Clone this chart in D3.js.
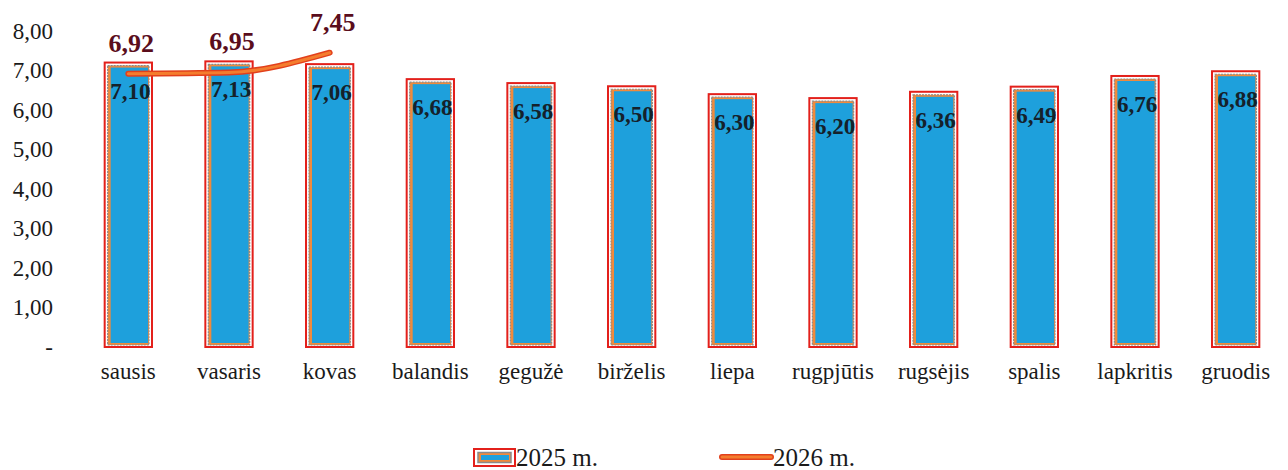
<!DOCTYPE html>
<html><head><meta charset="utf-8">
<script src="https://cdn.jsdelivr.net/npm/d3@7"></script>
<style>body{margin:0;background:#fff}svg{display:block}</style>
</head><body>
<svg id="c" width="1288" height="470"></svg>
<script>
const months = ["sausis","vasaris","kovas","balandis","gegužė","birželis","liepa","rugpjūtis","rugsėjis","spalis","lapkritis","gruodis"];
const values2025 = [7.10,7.13,7.06,6.68,6.58,6.50,6.30,6.20,6.36,6.49,6.76,6.88];
const months2026 = ["sausis","vasaris","kovas"];
const values2026 = [6.92,6.95,7.45];
const yTicks = [0,1,2,3,4,5,6,7,8];
const seriesNames = ["2025 m.","2026 m."];

const FONT = "Liberation Serif";
const svg = d3.select("#c");
const fmt = v => v === 0 ? "-" : d3.format(".2f")(v).replace(".", ",");

const x = d3.scaleBand().domain(months).range([78, 1286]).paddingInner(0.53).paddingOuter(0.265);
const y = d3.scaleLinear().domain([0, 8]).range([347, 31]);

const yAxis = d3.axisLeft(y).tickValues(yTicks).tickFormat(fmt).tickSize(0).tickPadding(0);
const ga = svg.append("g").attr("transform", "translate(53,0)").call(yAxis);
ga.select(".domain").remove();
ga.selectAll("text").attr("font-size", 23).attr("fill", "#1a1a1a");

const xAxis = d3.axisBottom(x).tickSize(0).tickPadding(0);
const gx = svg.append("g").attr("transform", "translate(0,363)").call(xAxis);
gx.select(".domain").remove();
gx.selectAll("text").attr("font-size", 23).attr("fill", "#1a1a1a");

const bw = x.bandwidth();
const barTop = i => y(values2025[i]) - 4;
const bars = svg.append("g").selectAll("g").data(months).join("g");
bars.append("rect")
  .attr("x", d => x(d)).attr("y", (d,i) => barTop(i))
  .attr("width", bw).attr("height", (d,i) => y(0) - barTop(i))
  .attr("fill", "#fff").attr("stroke", "#e3201b").attr("stroke-width", 2);
bars.append("rect")
  .attr("x", d => x(d) + 3).attr("y", (d,i) => barTop(i) + 3)
  .attr("width", bw - 6).attr("height", (d,i) => y(0) - barTop(i) - 5)
  .attr("fill", "#f08a3c").attr("stroke", "#8a8a8a").attr("stroke-width", 1.2).attr("stroke-dasharray", "2,1");
bars.append("rect")
  .attr("x", d => x(d) + 6).attr("y", (d,i) => barTop(i) + 5)
  .attr("width", bw - 10).attr("height", (d,i) => y(0) - barTop(i) - 9)
  .attr("fill", "#1ea0dc");
bars.append("text")
  .attr("x", d => x(d) + bw / 2 + 2).attr("y", (d,i) => y(values2025[i]) + 32)
  .attr("text-anchor", "middle").attr("font-size", 23).attr("font-weight", "bold")
  .attr("fill", "#15212b").text((d,i) => fmt(values2025[i]));

const line = d3.line().x((d,i) => x(months2026[i]) + bw / 2).y(d => y(d)).curve(d3.curveMonotoneX);
svg.append("path").datum(values2026).attr("d", line).attr("fill", "none")
  .attr("stroke", "#e2401c").attr("stroke-width", 6).attr("stroke-linecap", "round");
svg.append("path").datum(values2026).attr("d", line).attr("fill", "none")
  .attr("stroke", "#f47d2e").attr("stroke-width", 3).attr("stroke-linecap", "round");
svg.append("g").selectAll("text").data(values2026).join("text")
  .attr("x", (d,i) => x(months2026[i]) + bw / 2 + 3).attr("y", d => y(d) - 22)
  .attr("text-anchor", "middle").attr("font-size", 26).attr("font-weight", "bold")
  .attr("fill", "#5a0d1c").text(d => fmt(d));

const lg = svg.append("g");
lg.append("rect").attr("x", 474).attr("y", 449).attr("width", 41).attr("height", 17)
  .attr("fill", "#fff").attr("stroke", "#e3201b").attr("stroke-width", 2);
lg.append("rect").attr("x", 478).attr("y", 452.5).attr("width", 33).attr("height", 10)
  .attr("fill", "#f08a3c").attr("stroke", "#8a8a8a").attr("stroke-width", 1.5);
lg.append("rect").attr("x", 481).attr("y", 455).attr("width", 28).attr("height", 5).attr("fill", "#1ea0dc");
lg.append("text").attr("x", 516).attr("y", 466).attr("font-size", 25).attr("fill", "#1a1a1a").text(seriesNames[0]);
lg.append("line").attr("x1", 722).attr("x2", 771).attr("y1", 457).attr("y2", 457)
  .attr("stroke", "#e2401c").attr("stroke-width", 6).attr("stroke-linecap", "round");
lg.append("line").attr("x1", 722).attr("x2", 771).attr("y1", 457).attr("y2", 457)
  .attr("stroke", "#f47d2e").attr("stroke-width", 3).attr("stroke-linecap", "round");
lg.append("text").attr("x", 773).attr("y", 466).attr("font-size", 25).attr("fill", "#1a1a1a").text(seriesNames[1]);

svg.selectAll("g").attr("font-family", null);
svg.selectAll("text").attr("font-family", FONT);
</script>
</body></html>
